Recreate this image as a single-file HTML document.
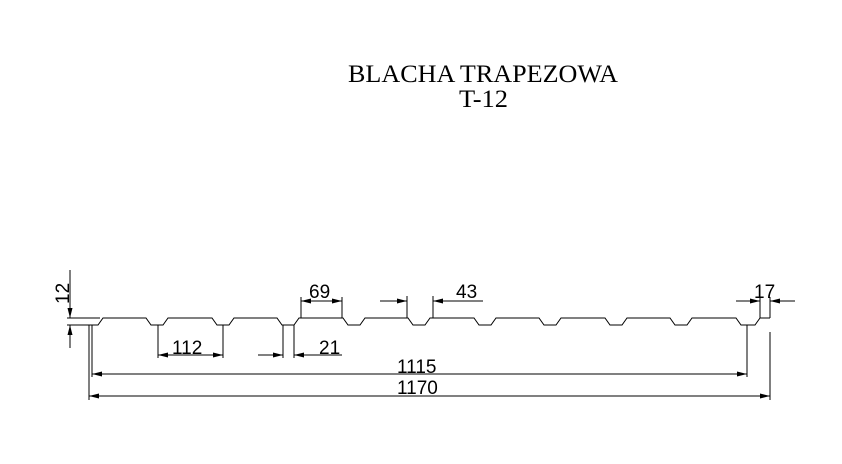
<!DOCTYPE html>
<html><head><style>body{margin:0;background:#fff}svg{display:block}</style></head>
<body>
<svg width="842" height="464" xmlns="http://www.w3.org/2000/svg">
<rect width="842" height="464" fill="#fff"/>
<text x="348" y="82" font-family="Liberation Serif,serif" font-size="25" textLength="270" lengthAdjust="spacingAndGlyphs">BLACHA TRAPEZOWA</text>
<text x="459" y="107" font-family="Liberation Serif,serif" font-size="25" textLength="49" lengthAdjust="spacingAndGlyphs">T-12</text>
<defs>
<marker id="a" viewBox="0 0 10 6" refX="10" refY="3" markerWidth="10" markerHeight="6" markerUnits="userSpaceOnUse" orient="auto"><path d="M0,0.5 L10,3 L0,5.5z" fill="#000"/></marker>
</defs>
<g fill="none" stroke="#000" stroke-width="1">
<path d="M67,325 L98,325 L103,318 L146,318 L151,325 L163,325 L168,318 L212,318 L217,325 L229,325 L234,318 L277,318 L282,325 L294,325 L299,318 L343,318 L348,325 L360,325 L365,318 L408,318 L413,325 L425,325 L430,318 L474,318 L479,325 L491,325 L496,318 L539,318 L544,325 L556,325 L561,318 L605,318 L610,325 L622,325 L627,318 L670,318 L675,325 L687,325 L692,318 L736,318 L741,325 L755,325 L760,318 L770,318"/>
<path d="M67,318 H100 M67,325 H92"/>
<path d="M70,270 V318" marker-end="url(#a)"/>
<path d="M70,348 V325" marker-end="url(#a)"/>
<path d="M158,325 V358 M223,325 V358"/>
<path d="M190,355 H158" marker-end="url(#a)"/>
<path d="M190,355 H223" marker-end="url(#a)"/>
<path d="M283,325 V358 M294,325 V358"/>
<path d="M258,355 H283" marker-end="url(#a)"/>
<path d="M342,355 H294" marker-end="url(#a)"/>
<path d="M301,297 V318 M342,297 V318"/>
<path d="M321,301 H301" marker-end="url(#a)"/>
<path d="M321,301 H342" marker-end="url(#a)"/>
<path d="M407,296 V318 M433,296 V318"/>
<path d="M380,301 H407" marker-end="url(#a)"/>
<path d="M483,301 H433" marker-end="url(#a)"/>
<path d="M760,297 V318 M770,297 V318"/>
<path d="M736,301 H760" marker-end="url(#a)"/>
<path d="M795,301 H770" marker-end="url(#a)"/>
<path d="M92,325 V377 M747,325 V377"/>
<path d="M420,374 H92" marker-end="url(#a)"/>
<path d="M420,374 H747" marker-end="url(#a)"/>
<path d="M89,325 V400 M770,332 V400"/>
<path d="M420,396 H89" marker-end="url(#a)"/>
<path d="M420,396 H770" marker-end="url(#a)"/>
</g>
<g font-family="Liberation Sans,sans-serif" font-size="19" fill="#000">
<text x="0" y="0" transform="translate(69,304) rotate(-90)">12</text>
<text x="172" y="354">112</text>
<text x="319" y="354">21</text>
<text x="309" y="298">69</text>
<text x="456" y="298">43</text>
<text x="754" y="298">17</text>
<text x="397" y="373">1115</text>
<text x="397" y="394">1170</text>
</g>
</svg>
</body></html>
